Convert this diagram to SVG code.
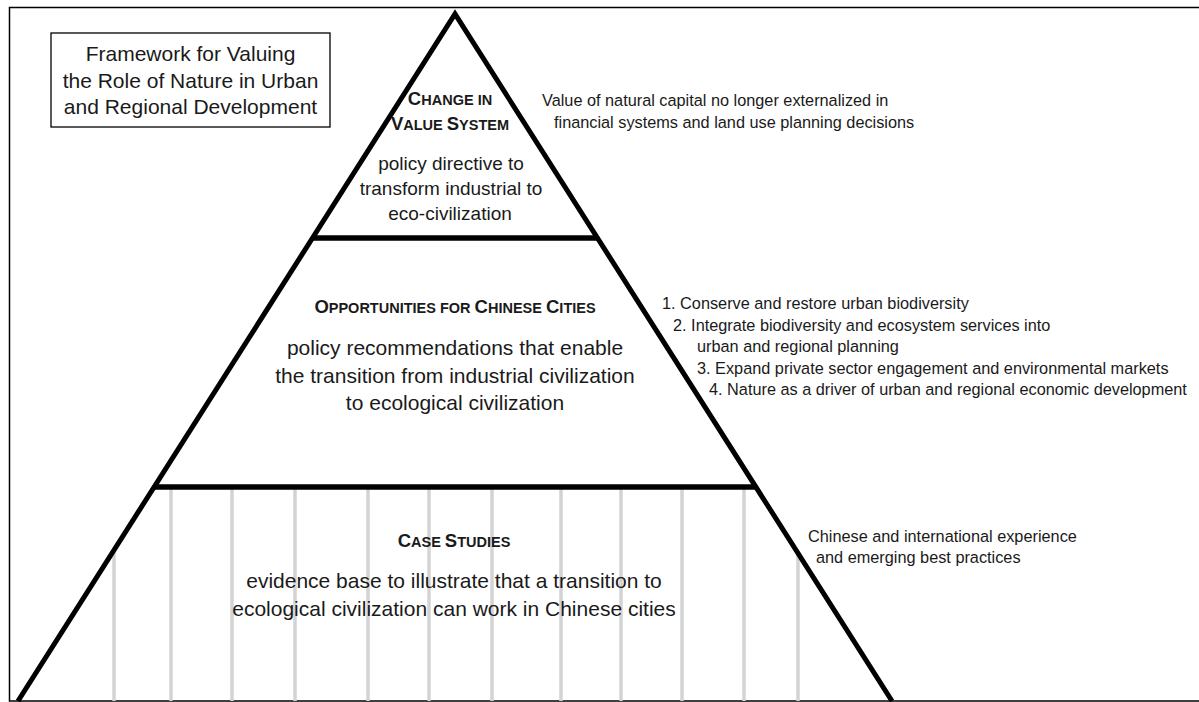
<svg xmlns="http://www.w3.org/2000/svg" width="1199" height="702" viewBox="0 0 1199 702">
<style>
text{font-family:"Liberation Sans",Arial,sans-serif;fill:#1a1a1a}
.title{font-size:21px;text-anchor:middle}
.body19{font-size:19px;text-anchor:middle}
.body21{font-size:21px;text-anchor:middle}
.hd{font-weight:bold;text-anchor:middle}
.big{font-size:18.5px}
.sm{font-size:14.5px}
.note{font-size:16.3px}
.side{fill:none;stroke:#000;stroke-width:5;stroke-linejoin:miter;stroke-miterlimit:20}
.bar{stroke:#000;stroke-width:5.5}
.pillar{stroke:#d3d3d3;stroke-width:3.5}
</style>
<defs>
<clipPath id="tri"><polygon points="455,14 18,701 892,701"/></clipPath>
</defs>
<rect width="1199" height="702" fill="#fff"/>
<rect id="frame" x="9.5" y="7.5" width="1200" height="693.5" fill="none" stroke="#000" stroke-width="1.5"/>

<g id="title-box">
<rect x="51" y="33" width="279" height="94" fill="#fff" stroke="#000" stroke-width="1.3"/>
<text class="title" x="190.5" y="61">Framework for Valuing</text>
<text class="title" x="190.5" y="87.5">the Role of Nature in Urban</text>
<text class="title" x="190.5" y="114">and Regional Development</text>
</g>

<g id="pillars" clip-path="url(#tri)">
<line class="pillar" x1="114" y1="487" x2="114" y2="702"/>
<line class="pillar" x1="171" y1="487" x2="171" y2="702"/>
<line class="pillar" x1="232" y1="487" x2="232" y2="702"/>
<line class="pillar" x1="295" y1="487" x2="295" y2="702"/>
<line class="pillar" x1="368" y1="487" x2="368" y2="702"/>
<line class="pillar" x1="429" y1="487" x2="429" y2="702"/>
<line class="pillar" x1="492" y1="487" x2="492" y2="702"/>
<line class="pillar" x1="561" y1="487" x2="561" y2="702"/>
<line class="pillar" x1="621" y1="487" x2="621" y2="702"/>
<line class="pillar" x1="682" y1="487" x2="682" y2="702"/>
<line class="pillar" x1="744" y1="487" x2="744" y2="702"/>
<line class="pillar" x1="798" y1="487" x2="798" y2="702"/>
</g>

<g id="pyramid-outline">
<polyline class="side" points="18,701 455,14 892,701"/>
<line class="bar" x1="312" y1="238" x2="598" y2="238"/>
<line class="bar" x1="154" y1="487" x2="756" y2="487"/>
</g>

<g id="tier-value-system">
<text class="hd" x="450" y="105"><tspan class="big">C</tspan><tspan class="sm">HANGE IN</tspan></text>
<text class="hd" x="450" y="130"><tspan class="big">V</tspan><tspan class="sm">ALUE </tspan><tspan class="big">S</tspan><tspan class="sm">YSTEM</tspan></text>
<text class="body19" x="451" y="170">policy directive to</text>
<text class="body19" x="451" y="195">transform industrial to</text>
<text class="body19" x="450" y="220">eco-civilization</text>
</g>

<g id="tier-opportunities">
<text class="hd" x="455" y="313"><tspan class="big">O</tspan><tspan class="sm">PPORTUNITIES FOR </tspan><tspan class="big">C</tspan><tspan class="sm">HINESE </tspan><tspan class="big">C</tspan><tspan class="sm">ITIES</tspan></text>
<text class="body21" x="455" y="355">policy recommendations that enable</text>
<text class="body21" x="455" y="383">the transition from industrial civilization</text>
<text class="body21" x="455" y="410">to ecological civilization</text>
</g>

<g id="tier-case-studies">
<text class="hd" x="454" y="547"><tspan class="big">C</tspan><tspan class="sm">ASE </tspan><tspan class="big">S</tspan><tspan class="sm">TUDIES</tspan></text>
<text class="body21" x="454" y="588">evidence base to illustrate that a transition to</text>
<text class="body21" x="454" y="616">ecological civilization can work in Chinese cities</text>
</g>

<g id="note-value-system">
<text class="note" x="542" y="106">Value of natural capital no longer externalized in</text>
<text class="note" x="554" y="128">financial systems and land use planning decisions</text>
</g>

<g id="note-opportunities">
<text class="note" x="662" y="309">1. Conserve and restore urban biodiversity</text>
<text class="note" x="673" y="331">2. Integrate biodiversity and ecosystem services into</text>
<text class="note" x="697" y="352">urban and regional planning</text>
<text class="note" x="697" y="374">3. Expand private sector engagement and environmental markets</text>
<text class="note" x="709" y="395">4. Nature as a driver of urban and regional economic development</text>
</g>

<g id="note-case-studies">
<text class="note" x="808" y="542">Chinese and international experience</text>
<text class="note" x="816" y="563">and emerging best practices</text>
</g>
</svg>
